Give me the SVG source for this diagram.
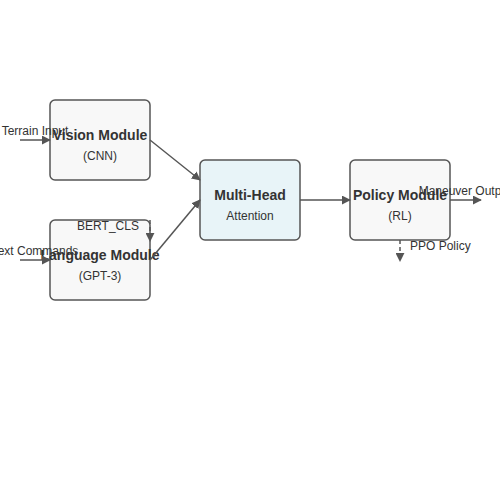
<svg xmlns="http://www.w3.org/2000/svg" width="500" height="500" viewBox="0 0 500 500">
<style>
.node rect{stroke:#555;stroke-width:1.5}
.t{font-family:"Liberation Sans",Arial,sans-serif;font-size:14px;font-weight:bold;fill:#333;text-anchor:middle}
.s{font-family:"Liberation Sans",Arial,sans-serif;font-size:12px;fill:#333;text-anchor:middle}
.l{font-family:"Liberation Sans",Arial,sans-serif;font-size:12px;fill:#333}
.c{stroke:#555;stroke-width:1.5;fill:none}
.d{stroke-dasharray:4,3}
</style>
<defs>
<marker id="a" viewBox="0 0 10 10" refX="9" refY="5" markerWidth="6" markerHeight="6" orient="auto" markerUnits="strokeWidth"><path d="M0,0L10,5L0,10z" fill="#555"/></marker>
</defs>
<rect width="500" height="500" fill="#fff"/>
<g id="vision" class="node">
<rect x="50" y="100" width="100" height="80" rx="5" fill="#f8f8f8"/>
<text class="t" x="100" y="140">Vision Module</text>
<text class="s" x="100" y="160">(CNN)</text>
</g>
<g id="language" class="node">
<rect x="50" y="220" width="100" height="80" rx="5" fill="#f8f8f8"/>
<text class="t" x="100" y="260">Language Module</text>
<text class="s" x="100" y="280">(GPT-3)</text>
</g>
<g id="attention" class="node">
<rect x="200" y="160" width="100" height="80" rx="5" fill="#e8f4f8"/>
<text class="t" x="250" y="200">Multi-Head</text>
<text class="s" x="250" y="220">Attention</text>
</g>
<g id="policy" class="node">
<rect x="350" y="160" width="100" height="80" rx="5" fill="#f8f8f8"/>
<text class="t" x="400" y="200">Policy Module</text>
<text class="s" x="400" y="220">(RL)</text>
</g>
<g id="connectors">
<line class="c" x1="20" y1="140" x2="50" y2="140" marker-end="url(#a)"/>
<line class="c" x1="20" y1="260" x2="50" y2="260" marker-end="url(#a)"/>
<line class="c" x1="150" y1="140" x2="200" y2="180" marker-end="url(#a)"/>
<line class="c" x1="150" y1="260" x2="200" y2="200" marker-end="url(#a)"/>
<line class="c" x1="300" y1="200" x2="350" y2="200" marker-end="url(#a)"/>
<line class="c" x1="450" y1="200" x2="481" y2="200" marker-end="url(#a)"/>
<line class="c d" x1="150" y1="220" x2="150" y2="241" marker-end="url(#a)"/>
<line class="c d" x1="400" y1="240" x2="400" y2="261" marker-end="url(#a)"/>
</g>
<g id="labels">
<text class="l" x="35" y="135" text-anchor="middle">Terrain Input</text>
<text class="l" x="35" y="255" text-anchor="middle">Text Commands</text>
<text class="l" x="108" y="230" text-anchor="middle">BERT_CLS</text>
<text class="l" x="465" y="195" text-anchor="middle">Maneuver Output</text>
<text class="l" x="410" y="250">PPO Policy</text>
</g>
</svg>
